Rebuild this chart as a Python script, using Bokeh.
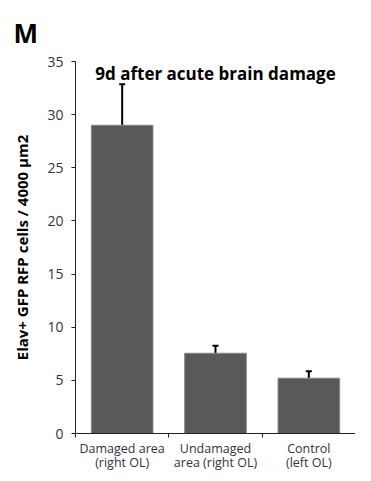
from bokeh.plotting import figure
from bokeh.models import (ColumnDataSource, Whisker, TeeHead, Label, FixedTicker,
                          Range1d)
from bokeh.embed import file_html
from bokeh.resources import INLINE

categories = ["Damaged area\n(right OL)", "Undamaged\narea (right OL)", "Control\n(left OL)"]
values = [29.0, 7.55, 5.2]
errors = [3.85, 0.7, 0.65]
y_ticks = [0, 5, 10, 15, 20, 25, 30, 35]

FONT = "Open Sans"
xs = [i + 0.5 for i in range(len(categories))]
src = ColumnDataSource(dict(
    x=xs, top=values,
    upper=[v + e for v, e in zip(values, errors)],
))

p = figure(width=355, height=473, output_backend="svg", toolbar_location=None,
           x_range=Range1d(0, len(categories)), y_range=Range1d(0, 35),
           min_border_left=75, min_border_right=0, min_border_top=61,
           min_border_bottom=40)
p.outline_line_color = None
p.xgrid.visible = False
p.ygrid.visible = False

p.title.text = "M"
p.title.text_font = FONT
p.title.text_font_style = "bold"
p.title.text_font_size = "26px"
p.title.text_color = "black"
p.title.align = "left"
p.title.offset = -62
p.title.standoff = 22

p.vbar(x="x", top="top", width=0.66, source=src, fill_color="#595959",
       line_color="#858585", line_width=1)

w = Whisker(base="x", upper="upper", lower="top", source=src,
            line_color="black", line_width=2,
            upper_head=TeeHead(size=6, line_width=2, line_color="black"),
            lower_head=None)
p.add_layout(w)

# y axis
p.yaxis.ticker = FixedTicker(ticks=y_ticks)
p.yaxis.minor_tick_line_color = None
p.yaxis.major_tick_in = 0
p.yaxis.major_tick_out = 4
p.yaxis.major_label_standoff = 8
p.yaxis.major_label_text_font = FONT
p.yaxis.major_label_text_font_size = "14px"
p.yaxis.major_label_text_color = "#333333"
p.yaxis.axis_line_color = "#222222"
p.yaxis.major_tick_line_color = "#222222"
p.yaxis.axis_label = "Elav+ GFP RFP cells / 4000 \u00b5m2"
p.yaxis.axis_label_text_font = FONT
p.yaxis.axis_label_text_font_style = "bold"
p.yaxis.axis_label_text_font_size = "15px"
p.yaxis.axis_label_text_color = "black"
p.yaxis.axis_label_standoff = 12

# x axis
p.xaxis.ticker = FixedTicker(ticks=xs, minor_ticks=list(range(len(categories) + 1)))
p.xaxis.major_label_overrides = {x: c for x, c in zip(xs, categories)}
p.xaxis.major_tick_line_color = None
p.xaxis.minor_tick_in = 0
p.xaxis.minor_tick_out = 4
p.xaxis.minor_tick_line_color = "#222222"
p.xaxis.axis_line_color = "#222222"
p.xaxis.major_label_standoff = 0
p.xaxis.major_label_text_font = FONT
p.xaxis.major_label_text_font_size = "12.5px"
p.xaxis.major_label_text_line_height = 0.85
p.xaxis.major_label_text_color = "#333333"

p.add_layout(Label(x=1.5, y=35, text="9d after acute brain damage",
                   text_font=FONT, text_font_style="bold", text_font_size="17px",
                   text_align="center", text_baseline="top", text_color="black"))

open("out.html", "w").write(file_html(p, INLINE))
